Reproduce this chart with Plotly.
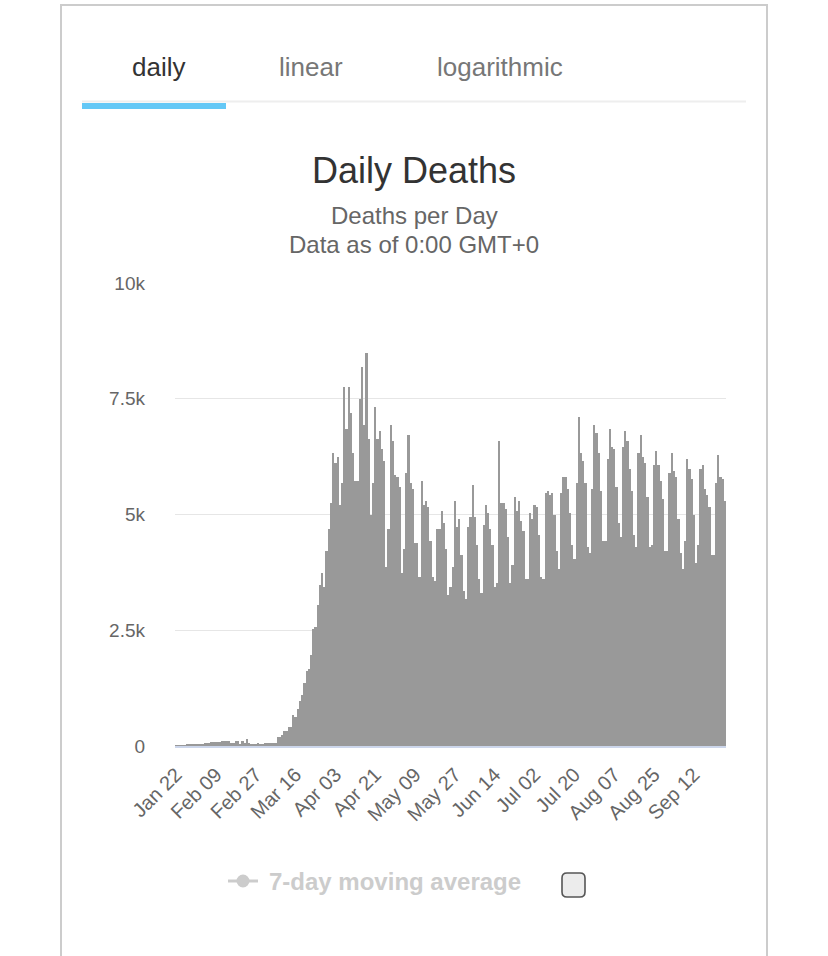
import pandas as pd
import plotly.graph_objects as go

# ---------------- data ----------------
start_date = "2020-01-22"
daily_deaths = [
    17, 1, 8, 16, 14, 26, 26, 30, 30, 28, 30, 32, 34,
    70, 72, 72, 80, 85, 90, 95,
    90,
    115, 115, 115, 115,
    72, 72,
    115, 115,
    50, 115, 72, 158, 72,
    25, 25, 25, 72, 30, 30,
    62, 64, 66, 65, 66, 68,
    200, 200, 245, 324, 324, 410, 410, 670, 634, 800, 972, 1100,
    1368, 1627, 1670, 1973, 2534, 2577, 3046, 3477, 3730, 3441,
    4219, 4687, 5255, 6321, 6119, 6249, 5205, 5673, 7747, 6854,
    7747, 7185, 6321, 5731, 5731, 7487, 8193, 6933, 8496, 6638,
    4990, 5673, 7315, 6638, 6804, 6415, 6156, 3866, 4687, 6926,
    6588, 5853, 5810, 5594, 3736, 4255, 5896, 6710, 5680, 5551,
    4385, 4385, 3650, 5724, 5205, 5292, 5162, 4428, 3650, 3564,
    4687, 4687, 5076, 4816, 4255, 3261, 3434, 3866, 5292, 4730,
    4903, 4125, 3348, 3175, 4730, 4946, 5637, 4946, 4341, 3607,
    3304, 4773, 5205, 5032, 4687, 4341, 3434, 3520, 6588, 5248,
    5248, 5119, 4514, 3520, 3909, 5378, 5076, 5292, 4860, 4644,
    3607, 3607, 5032, 4903, 5205, 5162, 4557, 3650, 3607, 5464,
    5508, 5421, 5464, 4990, 4212, 3823,
    5464, 5810, 5810, 5551, 5032, 4341, 4039, 5680, 7106, 6328,
    6156, 5680, 4298, 4169, 5551, 6933, 6761, 6328, 5508, 4428,
    4428, 6199, 6847, 6458, 6415, 5594, 4816, 4514, 6458, 6804,
    6588, 5983, 5508, 4557, 4298, 6328, 6717, 6242, 6112, 5378,
    4298, 4341, 6069, 6371, 6069, 5724, 5335, 4212, 4212, 5896,
    6328, 5940, 5810, 4903, 4169, 3823, 4428, 6199, 5983, 5767,
    4990, 3953, 4341, 5983, 6069, 5551, 5421, 5162, 4125, 4125,
    5680, 6285, 5810, 5767, 5292,
]
categories = [d.strftime("%b %d") for d in pd.date_range(start_date, periods=len(daily_deaths))]
x_tick_labels = ["Jan 22", "Feb 09", "Feb 27", "Mar 16", "Apr 03", "Apr 21", "May 09",
                 "May 27", "Jun 14", "Jul 02", "Jul 20", "Aug 07", "Aug 25", "Sep 12"]
y_tick_values = [0, 2500, 5000, 7500, 10000]
y_tick_labels = ["0", "2.5k", "5k", "7.5k", "10k"]
tab_labels = ["daily", "linear", "logarithmic"]
legend_label = "7-day moving average"

# ---------------- layout helpers ----------------
W, H = 828, 956
L, R, T, B = 175, 102, 283, 210
PW, PH = W - L - R, H - T - B
FONT = "Liberation Sans, Arial, Helvetica, sans-serif"

def px(x):
    return (x - L) / PW

def py(y):
    return (H - B - y) / PH

idx = list(range(len(categories)))
tick_idx = [categories.index(t) for t in x_tick_labels]

fig = go.Figure()
fig.add_trace(go.Bar(
    x=idx, y=daily_deaths, marker=dict(color="#999999", line=dict(width=0)),
    customdata=categories, hovertemplate="%{customdata}: %{y}<extra></extra>",
    showlegend=False,
))

annotations = []
tab_x = [158, 311, 500]
tab_col = ["#333333", "#777777", "#777777"]
for lab, xx, cc in zip(tab_labels, tab_x, tab_col):
    annotations.append(dict(text=lab, x=px(xx), y=py(67), xref="paper", yref="paper",
                            showarrow=False, xanchor="center", yanchor="middle",
                            font=dict(family=FONT, size=26, color=cc)))
annotations.append(dict(text="Daily Deaths", x=px(414), y=py(170), xref="paper", yref="paper",
                        showarrow=False, xanchor="center", yanchor="middle",
                        font=dict(family=FONT, size=36, color="#333333")))
annotations.append(dict(text="Deaths per Day", x=px(414), y=py(215), xref="paper", yref="paper",
                        showarrow=False, xanchor="center", yanchor="middle",
                        font=dict(family=FONT, size=24, color="#666666")))
annotations.append(dict(text="Data as of 0:00 GMT+0", x=px(414), y=py(244), xref="paper", yref="paper",
                        showarrow=False, xanchor="center", yanchor="middle",
                        font=dict(family=FONT, size=24, color="#666666")))
annotations.append(dict(text="<b>" + legend_label + "</b>", x=px(267), y=py(881), xref="paper", yref="paper",
                        showarrow=False, xanchor="left", yanchor="middle",
                        font=dict(family=FONT, size=24, color="#cccccc")))

shapes = [
    # card border
    dict(type="rect", xref="paper", yref="paper", x0=px(61), x1=px(767), y0=py(1010), y1=py(5),
         line=dict(color="#cccccc", width=2), fillcolor="rgba(0,0,0,0)", layer="below"),
    # tab baseline and active indicator
    dict(type="line", xref="paper", yref="paper", x0=px(82), x1=px(746), y0=py(101.5), y1=py(101.5),
         line=dict(color="#eeeeee", width=2)),
    dict(type="rect", xref="paper", yref="paper", x0=px(82), x1=px(226), y0=py(109), y1=py(103),
         line=dict(width=0), fillcolor="#64c8f6"),
    # legend symbol
    dict(type="line", xref="paper", yref="paper", x0=px(228), x1=px(258), y0=py(881), y1=py(881),
         line=dict(color="#cccccc", width=3)),
    dict(type="circle", xref="paper", yref="paper", x0=px(236.5), x1=px(249.5), y0=py(887.5), y1=py(874.5),
         line=dict(width=0), fillcolor="#cccccc"),
]
# checkbox (rounded square)
x0, x1, y0, y1, r = px(562), px(585), py(897), py(873), 5
rx, ry = r / PW, r / PH
path = (f"M {x0+rx},{y1} L {x1-rx},{y1} Q {x1},{y1} {x1},{y1-ry} L {x1},{y0+ry} "
        f"Q {x1},{y0} {x1-rx},{y0} L {x0+rx},{y0} Q {x0},{y0} {x0},{y0+ry} "
        f"L {x0},{y1-ry} Q {x0},{y1} {x0+rx},{y1} Z")
shapes.append(dict(type="path", xref="paper", yref="paper", path=path,
                   line=dict(color="#555555", width=1.6), fillcolor="#ececec"))

fig.update_layout(
    width=W, height=H, margin=dict(l=L, r=R, t=T, b=B, autoexpand=False),
    paper_bgcolor="white", plot_bgcolor="white",
    bargap=0, showlegend=False,
    annotations=annotations, shapes=shapes,
    xaxis=dict(range=[-0.5, len(idx) - 0.5], tickmode="array", tickvals=tick_idx,
               ticktext=x_tick_labels, tickangle=-45, showgrid=False, zeroline=False,
               showline=True, linecolor="#ccd6eb", linewidth=2, ticks="", ticklabelstandoff=7,
               tickfont=dict(family=FONT, size=20, color="#666666"), fixedrange=True),
    yaxis=dict(range=[0, 10000], tickmode="array", tickvals=y_tick_values, ticktext=y_tick_labels,
               showgrid=True, gridcolor="#e6e6e6", gridwidth=1, zeroline=False, showline=False,
               ticks="", ticklabelstandoff=29,
               tickfont=dict(family=FONT, size=19, color="#666666"), fixedrange=True),
)

fig.write_html("out.html")
